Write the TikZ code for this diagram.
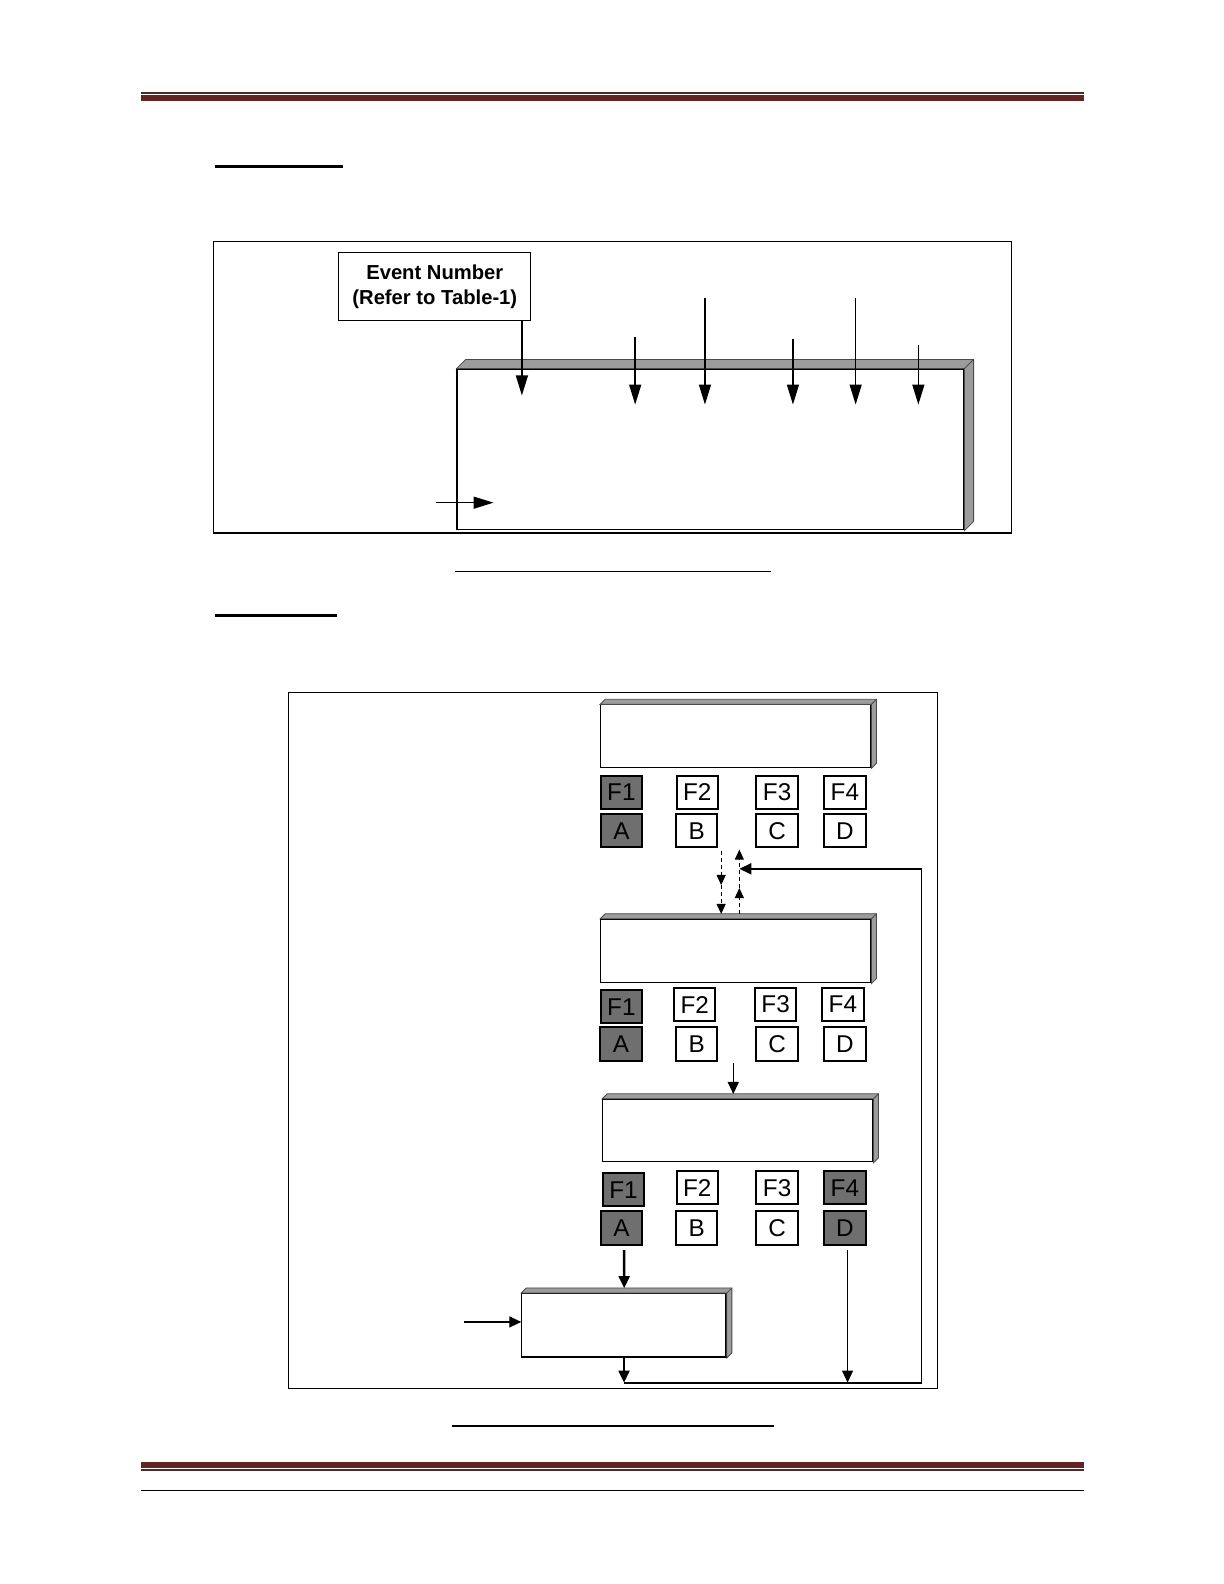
\documentclass[tikz,border=0pt]{standalone}
\usepackage{fontspec}
\setmainfont{Liberation Sans}
\usetikzlibrary{arrows.meta}
\definecolor{hdr}{HTML}{632523}
\definecolor{hdrthin}{HTML}{52292A}
\definecolor{keygray}{HTML}{6F6F6F}
\definecolor{bevgray}{HTML}{9C9C9C}
\definecolor{bevline}{HTML}{4A4A4A}
\begin{document}
\begin{tikzpicture}[x=0.5pt,y=-0.5pt,
scr/.style = {draw, line width=0.6pt, fill=white, inner sep=0pt},
key/.style = {draw, line width=1pt, inner sep=0pt, minimum width=20.5pt,
              minimum height=16.5pt, font=\fontsize{12}{12}\selectfont},
on/.style = {fill=keygray},
off/.style = {fill=white},
big/.style = {-{Triangle[length=10pt,width=6pt]}, line width=0.7pt},
arr/.style = {-{Triangle[length=6pt,width=5.5pt]}, line width=0.9pt},
dsh/.style = {-{Triangle[length=5pt,width=4.5pt]}, line width=0.5pt,
              dash pattern=on 2pt off 1.5pt},
frame/.style = {line width=0.6pt}
                        ]
\def\bevel#1#2{\fill[bevgray, draw=bevline, line width=0.4pt]
  (#1.north west) -- ++(#2,-#2) -- ([shift={(#2,-#2)}]#1.north east)
  -- ([shift={(#2,-#2)}]#1.south east) -- (#1.south east) -- (#1.north east) -- cycle;
  \draw[bevline, line width=0.4pt] (#1.north east) -- ++(#2,-#2);}
\useasboundingbox (0,0) rectangle (1224,1584);
\begin{scope}[scale=1.0112, transform shape]
% page rules
\fill[hdrthin] (139,91.2) rectangle (1072,92.8);
\fill[hdr] (139,94) rectangle (1072,99.5);
\fill[hdr] (139,1446) rectangle (1072,1451.5);
\fill[hdrthin] (139,1452.8) rectangle (1072,1454.4);
\draw[line width=0.6pt] (139,1474) -- (1072,1474);
% headings and captions
\draw[line width=1.5pt] (213,165) -- (339,165);
\draw[line width=0.8pt] (450,565) -- (762,565);
\draw[line width=1.5pt] (213,609) -- (333,609);
\draw[line width=0.8pt] (447,1410) -- (765,1410);
%
% upper picture
\draw[frame] (211,239) rectangle (1000,527);
\node[scr, minimum width=250.5pt, minimum height=79.5pt] (disp) at (702.5,444.5) {};
\bevel{disp}{9}
\node[scr, line width=0.5pt, minimum width=95pt, minimum height=33.5pt, align=center,
      font=\bfseries\fontsize{10}{12}\selectfont] (ev) at (430,283.5)
      {Event Number\\(Refer to Table-1)};
\coordinate (e1) at (516,391);
\draw[big] (ev.south -| e1) -- (e1);
\foreach \i/\x/\y in {2/628/333, 3/697/295, 4/784/335, 5/846/295, 6/908/341}
  {\coordinate (p\i) at (\x,\y);
   \coordinate (e\i) at (\x,400);
   \draw[big] (p\i) -- (e\i);}
\coordinate (p7) at (431,497);
\coordinate (e7) at (488,497);
\draw[big] (p7) -- (e7);
%
% lower picture
\draw[frame] (285,685) rectangle (927,1373);
\node[scr, minimum width=133.5pt, minimum height=31pt] (s1) at (727.5,728) {};
\node[scr, minimum width=133.5pt, minimum height=31.5pt] (s2) at (727.5,940.5) {};
\node[scr, minimum width=133.5pt, minimum height=31pt] (s3) at (729.5,1118) {};
\node[scr, minimum width=101pt, minimum height=31.5pt] (s4) at (617,1310.5) {};
\bevel{s1}{5}
\bevel{s2}{5}
\bevel{s3}{5}
\bevel{s4}{5}
\foreach \n/\x/\y/\t/\s in {
  s1f1/614.5/783.5/F1/on, s1f2/689.5/783.5/F2/off, s1f3/768.5/783.5/F3/off, s1f4/835.5/783.5/F4/off,
  s1a/614.5/821.5/A/on, s1b/689/821.5/B/off, s1c/768.5/821.5/C/off, s1d/835.5/821.5/D/off,
  s2f1/614.5/995.5/F1/on, s2f2/687/993.5/F2/off, s2f3/767/993.5/F3/off, s2f4/833.5/993.5/F4/off,
  s2a/614/1032.5/A/on, s2b/689/1032.5/B/off, s2c/768.5/1032.5/C/off, s2d/835.5/1032.5/D/off,
  s3f1/616.5/1176.5/F1/on, s3f2/689.5/1174.5/F2/off, s3f3/768.5/1174.5/F3/off, s3f4/835.5/1174.5/F4/on,
  s3a/614.5/1214.5/A/on, s3b/689/1214.5/B/off, s3c/768.5/1214.5/C/off, s3d/835.5/1214.5/D/on}
  \node[key,\s] (\n) at (\x,\y) {\t};
% screen 1 <-> screen 2
\coordinate (s2top) at ([yshift=2.5pt]s2.north);
\coordinate (s3top) at ([yshift=2.5pt]s3.north);
\coordinate (s4top) at ([yshift=2.5pt]s4.north);
\coordinate (m1) at (713,875);
\coordinate (m2) at (731,878);
\coordinate (m3) at (731,840);
\draw[dsh] ([yshift=-1pt]s1b.south -| m1) -- (m1);
\draw[dsh] (m1) -- (s2top -| m1);
\draw[dsh] (s2top -| m2) -- (m2);
\draw[dsh] (m2) -- (m3);
% screen 2 -> screen 3 -> screen 4
\coordinate (n1) at (725,1051);
\draw[arr, line width=0.7pt] (n1) -- (s3top -| n1);
\draw[arr, line width=1.2pt] ([yshift=-2pt]s3a.south -| s4) -- (s4top);
\coordinate (l1) at (459,1307);
\draw[arr, line width=0.6pt] (l1) -- (s4.west |- l1);
% back to screen 1
\coordinate (j1) at (617,1367);
\coordinate (j2) at (838,1367);
\coordinate (r1) at (911,859);
\coordinate (u1) at (731,859);
\draw[arr, line width=1.2pt] (s4.south -| j1) -- (j1);
\draw[arr, line width=0.5pt] ([yshift=-2pt]s3d.south -| j2) -- (j2);
\draw[line width=0.9pt, -{Triangle[length=6pt,width=5.5pt]}] (j1) -- (j1 -| r1) -- (r1) -- (u1);
\end{scope}
\end{tikzpicture}
\end{document}
